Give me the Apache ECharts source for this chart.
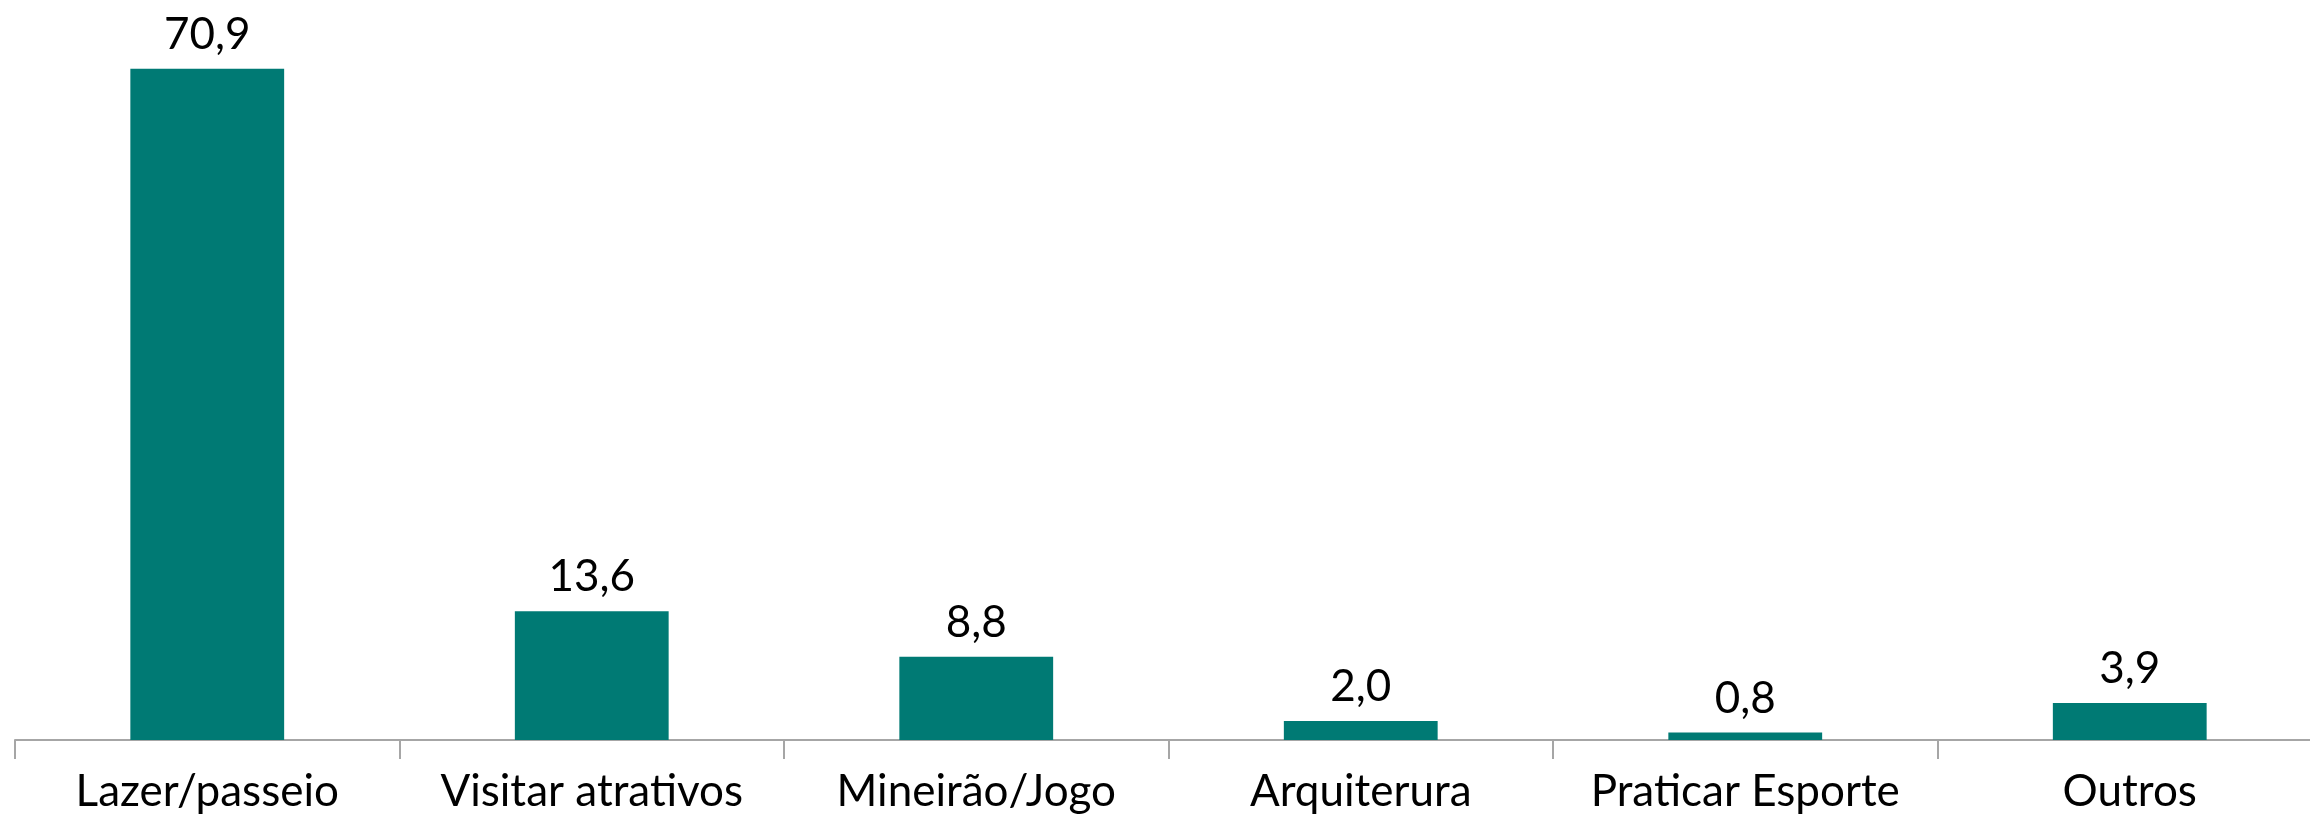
<!DOCTYPE html>
<html><head><meta charset="utf-8">
<script src="https://cdn.jsdelivr.net/npm/echarts@6/dist/echarts.min.js"></script>
<style>html,body{margin:0;padding:0;background:#fff}#c{width:2310px;height:819px}</style>
</head><body><div id="c"></div>
<script>
const categories = ["Lazer/passeio", "Visitar atrativos", "Mineirão/Jogo", "Arquiterura", "Praticar Esporte", "Outros"];
const values = [70.9, 13.6, 8.8, 2.0, 0.8, 3.9];
const chart = echarts.init(document.getElementById('c'), null, {renderer: 'canvas'});
chart.setOption({
  animation: false,
  grid: {left: 15, right: -12, top: 30, bottom: 79, containLabel: false, outerBoundsMode: 'none'},
  xAxis: {
    type: 'category', data: categories,
    axisLine: {lineStyle: {color: '#a6a6a6', width: 2}},
    axisTick: {show: true, length: 19, lineStyle: {color: '#a6a6a6', width: 2}},
    axisLabel: {color: '#000', fontSize: 44, fontFamily: 'Lato', margin: 30, interval: 0, hideOverlap: false}
  },
  yAxis: {type: 'value', min: 0, max: 75, show: false, splitLine: {show: false}},
  series: [{
    type: 'bar', data: values, barWidth: '40%',
    itemStyle: {color: '#007A74'},
    label: {show: true, position: 'top', color: '#000', fontSize: 44, fontFamily: 'Lato', distance: 12,
      formatter: p => p.value.toFixed(1).replace('.', ',')}
  }]
});
</script></body></html>
